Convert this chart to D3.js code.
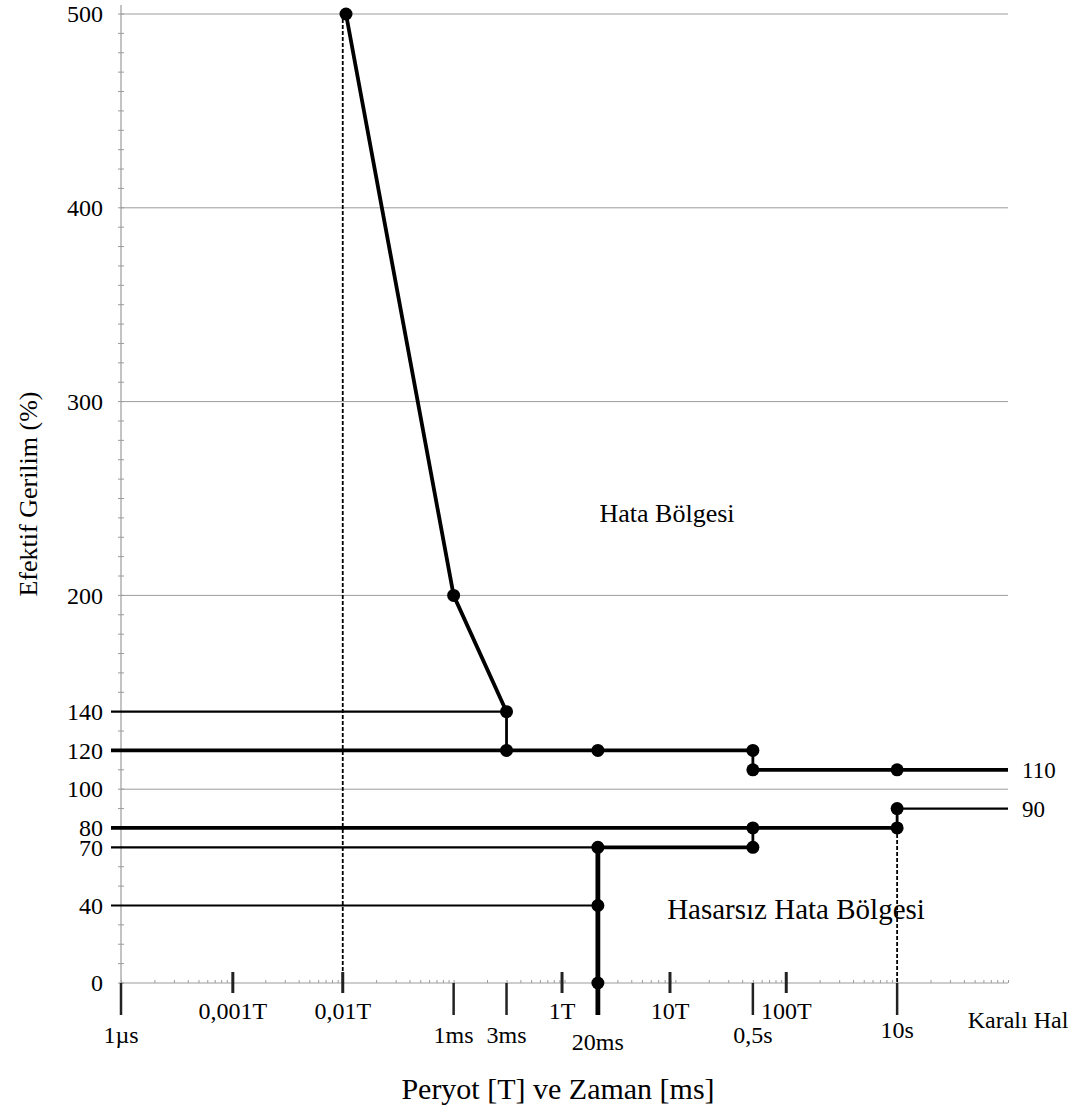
<!DOCTYPE html>
<meta charset="utf-8">
<style>
body { margin: 0; background: #fff; }
svg text { font-family: "Liberation Serif", Tinos, "Times New Roman", "DejaVu Serif", serif; fill: #000; }
</style>
<body>
<script src="https://d3js.org/d3.v7.min.js"></script>
<script>
var width = 1077,
    height = 1113;

// time in microseconds, voltage in %
var curveTime = [107, 1000, 3000];
var curveVolt = [500, 200, 140];

var voltTicks = [0, 40, 70, 80, 100, 120, 140, 200, 300, 400, 500];
var gridVolts = [100, 200, 300, 400, 500];

var timeTicks  = [1, 1000, 3000, 20000, 500000, 10000000];
var timeLabels = ["1µs", "1ms", "3ms", "20ms", "0,5s", "10s"];
var periodTicks  = [10.2, 100, 9500, 89400, 1000000];
var periodLabels = ["0,001T", "0,01T", "1T", "10T", "100T"];

// horizontal limit lines (start null = from the axis)
var levelVolt  = [140, 120, 80, 70, 70, 40, 110, 90];
var levelStart = [null, null, null, null, 20000, null, 500000, 10000000];
var levelEnd   = [3000, 500000, 10000000, 20000, 500000, 20000, 1e8, 1e8];
var levelHeavy = [false, true, true, false, true, false, true, false];

// vertical steps
var stepTime = [3000, 20000, 500000, 500000, 10000000];
var stepLow  = [120, 0, 110, 70, 80];
var stepHigh = [140, 70, 120, 80, 90];

var markTime = [107, 1000, 3000, 3000, 20000, 500000, 500000, 500000, 500000, 10000000, 10000000, 10000000, 20000, 20000, 20000];
var markVolt = [500, 200, 140, 120, 120, 120, 110, 80, 70, 110, 80, 90, 70, 40, 0];

var serif = '"Liberation Serif", Tinos, "Times New Roman", "DejaVu Serif", serif';

var svg = d3.select("body").append("svg")
    .attr("width", width)
    .attr("height", height)
    .style("font-family", serif);

var x = d3.scaleLog().domain([1, 1e8]).range([121, 1008]);
var y = d3.scaleLinear().domain([0, 500]).range([983, 14]);

var grey = "#9c9c9c";

// grid
svg.selectAll(".grid")
   .data(gridVolts)
   .enter().append("line")
   .attr("x1", x(1)).attr("x2", x(1e8))
   .attr("y1", d => y(d)).attr("y2", d => y(d))
   .attr("stroke", grey).attr("stroke-width", 1);

// x axis line + minor ticks
svg.append("line")
   .attr("x1", x(1)).attr("x2", x(1e8))
   .attr("y1", y(0)).attr("y2", y(0))
   .attr("stroke", grey).attr("stroke-width", 1.2);

svg.append("g")
   .attr("transform", "translate(0," + y(0) + ")")
   .call(d3.axisBottom(x).tickValues(x.ticks()).tickSize(-3).tickFormat(""))
   .call(g => g.select(".domain").remove())
   .selectAll("line").attr("stroke", grey);

// y axis line + minor ticks
svg.append("line")
   .attr("x1", x(1)).attr("x2", x(1))
   .attr("y1", y(0)).attr("y2", y(500) - 9)
   .attr("stroke", grey).attr("stroke-width", 1.2);

svg.selectAll(".ymin")
   .data(d3.range(0, 501, 10))
   .enter().append("line")
   .attr("x1", x(1) - 3).attr("x2", x(1) + 3)
   .attr("y1", d => y(d)).attr("y2", d => y(d))
   .attr("stroke", grey).attr("stroke-width", 1);

// y labels
svg.append("g")
   .attr("transform", "translate(" + (x(1) - 18) + ",0)")
   .call(d3.axisLeft(y).tickValues(voltTicks).tickSize(0).tickPadding(0))
   .attr("font-family", serif)
   .attr("font-size", 24)
   .call(g => g.select(".domain").remove())
   .selectAll("text")
   .attr("fill", "#000");

// dotted guides
svg.append("line")
   .attr("x1", x(100)).attr("x2", x(100))
   .attr("y1", y(0)).attr("y2", y(500))
   .attr("stroke", "#000").attr("stroke-width", 1.8)
   .attr("stroke-dasharray", "4,2");
svg.append("line")
   .attr("x1", x(1e7)).attr("x2", x(1e7))
   .attr("y1", y(80)).attr("y2", y(0))
   .attr("stroke", "#000").attr("stroke-width", 1.8)
   .attr("stroke-dasharray", "4,2");

// time ticks (below) and period ticks (across)
svg.selectAll(".tt")
   .data(timeTicks)
   .enter().append("line")
   .attr("x1", d => x(d)).attr("x2", d => x(d))
   .attr("y1", y(0)).attr("y2", y(0) + 32)
   .attr("stroke", "#222").attr("stroke-width", 2.5);

svg.selectAll(".pt")
   .data(periodTicks)
   .enter().append("line")
   .attr("x1", d => x(d)).attr("x2", d => x(d))
   .attr("y1", y(0) - 11).attr("y2", y(0) + 10)
   .attr("stroke", "#222").attr("stroke-width", 3);

var tickLift = [0, 0, 0, 7, 0, -5];
svg.selectAll(".tl")
   .data(timeTicks)
   .enter().append("text")
   .attr("x", d => x(d))
   .attr("y", (d, i) => y(0) + 60 + tickLift[i])
   .attr("text-anchor", "middle")
   .style("font-size", "24px")
   .text((d, i) => timeLabels[i]);

svg.selectAll(".pl")
   .data(periodTicks)
   .enter().append("text")
   .attr("x", d => x(d))
   .attr("y", y(0) + 36)
   .attr("text-anchor", "middle")
   .style("font-size", "24px")
   .text((d, i) => periodLabels[i]);

svg.append("text")
   .attr("x", 1018).attr("y", y(0) + 45)
   .attr("text-anchor", "middle")
   .style("font-size", "24px")
   .text("Karalı Hal");

// horizontal limit lines
svg.selectAll(".lvl")
   .data(levelVolt)
   .enter().append("line")
   .attr("x1", (d, i) => levelStart[i] == null ? x(1) - 10 : x(levelStart[i]))
   .attr("x2", (d, i) => x(levelEnd[i]))
   .attr("y1", d => y(d)).attr("y2", d => y(d))
   .attr("stroke", "#000")
   .attr("stroke-width", (d, i) => levelHeavy[i] ? 3.8 : 2.2);

// vertical steps
svg.selectAll(".stp")
   .data(stepTime)
   .enter().append("line")
   .attr("x1", d => x(d)).attr("x2", d => x(d))
   .attr("y1", (d, i) => y(stepLow[i])).attr("y2", (d, i) => y(stepHigh[i]))
   .attr("stroke", "#000")
   .attr("stroke-width", (d, i) => i == 1 ? 4.8 : 2.8);

// 20ms line continues below the axis
svg.append("line")
   .attr("x1", x(20000)).attr("x2", x(20000))
   .attr("y1", y(0)).attr("y2", y(0) + 32)
   .attr("stroke", "#000").attr("stroke-width", 4.8);

// curve
var line = d3.line()
    .x((d, i) => x(curveTime[i]))
    .y(d => y(d));

svg.append("path")
   .datum(curveVolt)
   .attr("d", line)
   .attr("fill", "none")
   .attr("stroke", "#000")
   .attr("stroke-width", 3.8)
   .attr("stroke-linejoin", "round");

// markers
svg.selectAll(".mk")
   .data(markTime)
   .enter().append("circle")
   .attr("cx", d => x(d))
   .attr("cy", (d, i) => y(markVolt[i]))
   .attr("r", 6.5)
   .attr("fill", "#000");

// region labels
svg.append("text")
   .attr("x", 667).attr("y", y(238))
   .attr("text-anchor", "middle")
   .style("font-size", "26px")
   .text("Hata Bölgesi");

svg.append("text")
   .attr("x", 796).attr("y", y(33))
   .attr("text-anchor", "middle")
   .style("font-size", "29px")
   .text("Hasarsız Hata Bölgesi");

svg.append("text")
   .attr("x", x(1e8) + 14).attr("y", y(110))
   .attr("dy", "0.35em")
   .style("font-size", "23px")
   .text("110");

svg.append("text")
   .attr("x", x(1e8) + 14).attr("y", y(90))
   .attr("dy", "0.35em")
   .style("font-size", "23px")
   .text("90");

// axis titles
svg.append("text")
   .attr("x", 558).attr("y", 1099)
   .attr("text-anchor", "middle")
   .style("font-size", "30px")
   .text("Peryot [T] ve Zaman [ms]");

svg.append("text")
   .attr("transform", "translate(37,494) rotate(-90)")
   .attr("text-anchor", "middle")
   .style("font-size", "26px")
   .text("Efektif Gerilim (%)");
</script>
</body>
</html>
